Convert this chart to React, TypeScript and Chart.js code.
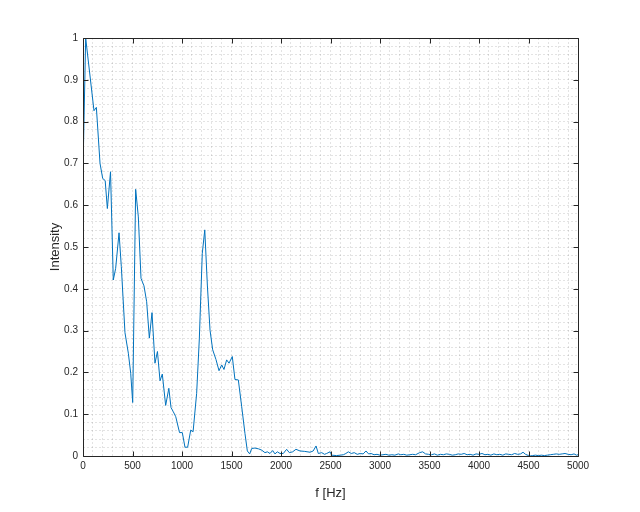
import React, { useEffect, useRef } from "react";
import { Chart, registerables } from "chart.js";

Chart.register(...registerables);

const freqHz: number[] = [
  0, 27, 111, 135, 172, 199, 224, 246, 278, 306, 330, 364, 387, 424, 458, 482, 502,
  532, 559, 586, 616, 643, 670, 697, 727, 752, 778, 801, 835, 867, 889, 912, 937,
  975, 1003, 1030, 1057, 1088, 1112, 1148, 1175, 1205, 1230, 1256, 1283, 1310, 1343,
  1374, 1401, 1424, 1451, 1475, 1508, 1535, 1569, 1603, 1636, 1660, 1684, 1704, 1737,
  1775, 1805, 1838, 1862, 1889, 1916, 1939, 1963, 1990, 2023, 2057, 2084, 2118, 2151,
  2192, 2240, 2293, 2325, 2354, 2377, 2411, 2440, 2461, 2495, 2512, 2560, 2600, 2630,
  2655, 2680, 2710, 2740, 2770, 2800, 2830, 2858, 2885, 2910, 2940, 2970, 3000, 3030,
  3060, 3090, 3120, 3150, 3185, 3210, 3240, 3270, 3300, 3330, 3360, 3400, 3431, 3460,
  3490, 3520, 3550, 3580, 3610, 3640, 3670, 3700, 3730, 3760, 3790, 3820, 3850, 3880,
  3910, 3940, 3970, 4000, 4030, 4060, 4090, 4120, 4150, 4180, 4210, 4240, 4270, 4300,
  4330, 4360, 4390, 4420, 4445, 4470, 4500, 4515, 4540, 4570, 4600, 4630, 4660, 4690,
  4720, 4750, 4780, 4810, 4840, 4869, 4900, 4930, 4960, 4985, 5000,
];

const intensity: number[] = [
  0.685, 1.0, 0.826, 0.834, 0.7, 0.664, 0.659, 0.592, 0.68, 0.421, 0.449, 0.534, 0.453,
  0.295, 0.246, 0.198, 0.128, 0.638, 0.572, 0.425, 0.407, 0.369, 0.282, 0.343, 0.222,
  0.25, 0.18, 0.196, 0.121, 0.162, 0.116, 0.106, 0.094, 0.056, 0.056, 0.021, 0.021,
  0.062, 0.058, 0.15, 0.28, 0.485, 0.541, 0.409, 0.301, 0.254, 0.231, 0.204, 0.218,
  0.207, 0.23, 0.222, 0.238, 0.183, 0.182, 0.118, 0.054, 0.012, 0.005, 0.018, 0.019,
  0.017, 0.014, 0.008, 0.01, 0.006, 0.013, 0.005, 0.01, 0.006, 0.006, 0.016, 0.008,
  0.01, 0.016, 0.012, 0.011, 0.009, 0.012, 0.024, 0.006, 0.008, 0.004, 0.006, 0.01,
  0.002, 0.001, 0.002, 0.003, 0.006, 0.01, 0.006, 0.008, 0.004, 0.006, 0.005, 0.012,
  0.005, 0.006, 0.003, 0.004, 0.002, 0.003, 0.004, 0.002, 0.003, 0.002, 0.005, 0.003,
  0.004, 0.002, 0.003, 0.004, 0.003, 0.008, 0.01, 0.005, 0.004, 0.003, 0.005, 0.002,
  0.004, 0.003, 0.005, 0.004, 0.002, 0.003, 0.005, 0.004, 0.006, 0.003, 0.004, 0.002,
  0.005, 0.004, 0.006, 0.003, 0.004, 0.002, 0.005, 0.003, 0.004, 0.002, 0.005, 0.004,
  0.003, 0.006, 0.004, 0.005, 0.009, 0.004, 0.001, 0.0, 0.001, 0.002, 0.001, 0.002,
  0.001, 0.002, 0.003, 0.004, 0.005, 0.004, 0.005, 0.006, 0.004, 0.003, 0.005, 0.002,
  0.003,
];

const xMajorTicks: number[] = [0, 500, 1000, 1500, 2000, 2500, 3000, 3500, 4000, 4500, 5000];
const yMajorTicks: number[] = [0, 0.1, 0.2, 0.3, 0.4, 0.5, 0.6, 0.7, 0.8, 0.9, 1];

const FONT = "'Liberation Sans', Helvetica, Arial, sans-serif";
const AXIS_COLOR = "#262626";
const GRID_COLOR = "rgba(38,38,38,0.13)";

const boxPlugin = {
  id: "matlabBox",
  afterDatasetsDraw(chart: any) {
    const { ctx, chartArea, scales } = chart;
    const { left, right, top, bottom } = chartArea;
    ctx.save();
    ctx.strokeStyle = AXIS_COLOR;
    ctx.lineWidth = 1;
    const L = Math.round(left) + 0.5;
    const R = Math.round(right) + 0.5;
    const T = Math.round(top) + 0.5;
    const B = Math.round(bottom) + 0.5;
    ctx.beginPath();
    ctx.rect(L, T, R - L, B - T);
    ctx.stroke();
    const tl = 5;
    ctx.beginPath();
    xMajorTicks.forEach((v) => {
      const x = Math.round(scales.x.getPixelForValue(v)) + 0.5;
      ctx.moveTo(x, B);
      ctx.lineTo(x, B - tl);
      ctx.moveTo(x, T);
      ctx.lineTo(x, T + tl);
    });
    yMajorTicks.forEach((v) => {
      const y = Math.round(scales.y.getPixelForValue(v)) + 0.5;
      ctx.moveTo(L, y);
      ctx.lineTo(L + tl, y);
      ctx.moveTo(R, y);
      ctx.lineTo(R - tl, y);
    });
    ctx.stroke();
    ctx.restore();
  },
};

export default function App() {
  const canvasRef = useRef<HTMLCanvasElement | null>(null);

  useEffect(() => {
    if (!canvasRef.current) return;
    const points = freqHz.map((f, i) => ({ x: f, y: intensity[i] }));
    const chart = new Chart(canvasRef.current, {
      type: "line",
      data: {
        datasets: [
          {
            data: points,
            borderColor: "#0072BD",
            borderWidth: 1,
            pointRadius: 0,
            tension: 0,
            fill: false,
          },
        ],
      },
      options: {
        animation: false,
        responsive: false,
        maintainAspectRatio: false,
        layout: { padding: { left: 0, right: 62, top: 38, bottom: 0 } },
        plugins: {
          legend: { display: false },
          tooltip: { enabled: false },
        },
        scales: {
          x: {
            type: "linear",
            min: 0,
            max: 5000,
            afterFit: (s: any) => {
              s.height = 56;
            },
            ticks: {
              stepSize: 100,
              autoSkip: false,
              maxRotation: 0,
              minRotation: 0,
              padding: 4,
              color: AXIS_COLOR,
              font: { family: FONT, size: 10 },
              callback: (v: any) => {
                const n = Math.round(Number(v));
                return n % 500 === 0 ? String(n) : "";
              },
            },
            grid: {
              drawTicks: false,
              color: GRID_COLOR,
              lineWidth: 1,
            },
            border: { display: false, dash: [2, 2] },
            title: {
              display: true,
              text: "f [Hz]",
              color: AXIS_COLOR,
              font: { family: FONT, size: 13 },
              padding: { top: 0, bottom: 11 },
            },
          },
          y: {
            type: "linear",
            min: 0,
            max: 1,
            afterFit: (s: any) => {
              s.width = 83;
            },
            ticks: {
              stepSize: 0.02,
              autoSkip: false,
              padding: 5,
              color: AXIS_COLOR,
              font: { family: FONT, size: 10 },
              callback: (v: any) => {
                const k = Math.round(Number(v) * 50);
                if (k % 5 !== 0) return "";
                const val = k / 50;
                return val === 0 ? "0" : val === 1 ? "1" : val.toFixed(1);
              },
            },
            grid: {
              drawTicks: false,
              color: GRID_COLOR,
              lineWidth: 1,
            },
            border: { display: false, dash: [2, 2] },
            title: {
              display: true,
              text: "Intensity",
              color: AXIS_COLOR,
              font: { family: FONT, size: 13 },
              padding: { top: 48, bottom: 0 },
            },
          },
        },
      },
      plugins: [boxPlugin],
    });
    return () => chart.destroy();
  }, []);

  return (
    <div
      style={{
        position: "absolute",
        left: 0,
        top: 0,
        width: 640,
        height: 512,
        background: "#ffffff",
      }}
    >
      <canvas ref={canvasRef} width={640} height={512} />
    </div>
  );
}
